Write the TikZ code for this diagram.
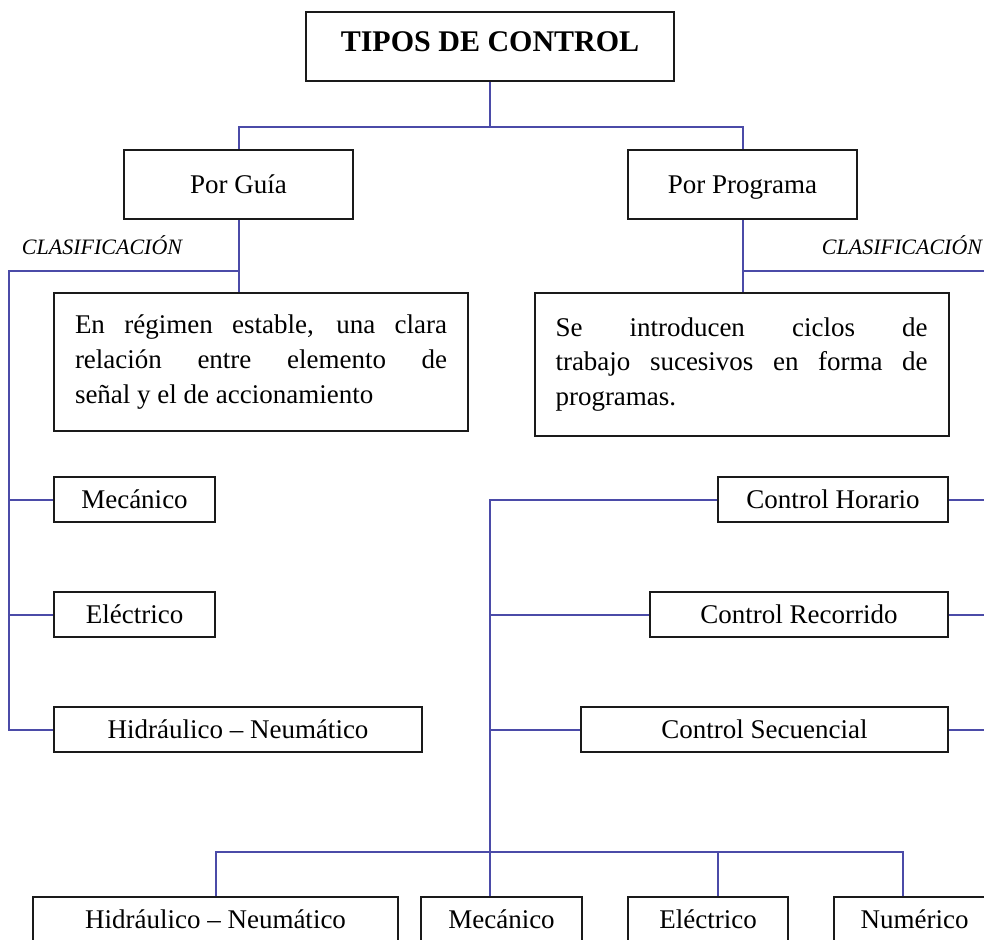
\documentclass[tikz,border=0pt]{standalone}
\usepackage{fontspec}
\setmainfont{Liberation Serif}
\usetikzlibrary{positioning,calc}
\definecolor{linec}{HTML}{4B4BA8}
\definecolor{boxc}{HTML}{1A1A1A}
\newcommand\fcaja{\fontsize{20.25}{25.9}\selectfont}
\newcommand\ftitulo{\fontsize{22.5}{26}\selectfont\bfseries}
\newcommand\fclas{\fontsize{16.5}{19}\selectfont\itshape}
\tikzset{
  marco/.style 2 args={draw=boxc,line width=1.5pt,fill=white,inner sep=0pt,font=\fcaja,
    minimum width=#1*0.75pt,minimum height=#2*0.75pt},
  caja/.style 2 args={marco={#1}{#2},text height=13.4pt,text depth=0pt},
  desc/.style 2 args={marco={#1}{#2},text width=279pt,inner xsep=15.75pt,align=justify},
  enlace/.style={draw=linec,line width=1.5pt},
  clasif/.style={font=\fclas,inner sep=0pt},
}
\begin{document}
\begin{tikzpicture}[x=0.75pt,y=-0.75pt]
  \useasboundingbox (0,0) rectangle (984,939);
  \clip (0,0) rectangle (984,939);
  \fill[white] (0,0) rectangle (984,939);
  % raiz y dos ramas
  \node[caja={368}{69},font=\ftitulo,text height=14.9pt,text depth=6.75pt] (tipos) at (490,46.5) {TIPOS DE CONTROL};
  \node[caja={229}{69}] (guia) at (238.5,184.5) {Por Guía};
  \node[caja={229}{69}] (prog) at (742.5,184.5) {Por Programa};
  \coordinate (rama) at (490,127);
  \draw[enlace] (tipos.south) -- (rama);
  \draw[enlace] (guia.north) |- (rama) -| (prog.north);
  % por guia
  \node[clasif] (clasgt) at (102,245) {CLASIFICACIÓN};
  \node[desc={414}{138}] (descg) at (261,362)
    {En régimen estable, una clara\linebreak relación entre elemento de\linebreak señal y el de accionamiento};
  \node[caja={161}{45}] (mecg) at (134.5,499.5) {Mecánico};
  \node[caja={161}{45}] (eleg) at (134.5,614.5) {Eléctrico};
  \node[caja={368}{45}] (hidg) at (238,729.5) {Hidráulico -- Neumático};
  \coordinate (clasg) at (9,271);
  \draw[enlace] (guia.south) -- (guia.south |- descg.north);
  \draw[enlace] (guia.south |- clasg) -- (clasg) |- (hidg.west);
  \draw[enlace] (clasg |- mecg.west) -- (mecg.west);
  \draw[enlace] (clasg |- eleg.west) -- (eleg.west);
  % por programa
  \node[clasif] (claspt) at (902,245) {CLASIFICACIÓN};
  \node[desc={413}{143}] (descp) at (741.5,364.5)
    {Se introducen ciclos de\linebreak trabajo sucesivos en forma de\linebreak programas.};
  \node[caja={230}{45}] (horario) at (833,499.5) {Control Horario};
  \node[caja={298}{45}] (recorrido) at (799,614.5) {Control Recorrido};
  \node[caja={367}{45}] (secuencial) at (764.5,729.5) {Control Secuencial};
  \coordinate (clasp) at (995,271);
  \coordinate (tronco) at (490,499.5);
  \coordinate (base) at (490,852);
  \draw[enlace] (prog.south) -- (prog.south |- descp.north);
  \draw[enlace] (prog.south |- clasp) -- (clasp);
  \draw[enlace] (horario.west) -- (tronco) -- (base);
  \draw[enlace] (tronco |- recorrido.west) -- (recorrido.west);
  \draw[enlace] (tronco |- secuencial.west) -- (secuencial.west);
  \foreach \n in {horario,recorrido,secuencial}
    \draw[enlace] (\n.east) -- (\n.east -| clasp);
  % fila inferior
  \node[caja={365}{46}] (hidp) at (215.5,920) {Hidráulico -- Neumático};
  \node[caja={161}{46}] (mecp) at (501.5,920) {Mecánico};
  \node[caja={160}{46}] (elep) at (708,920) {Eléctrico};
  \node[caja={161}{46}] (nump) at (914.5,920) {Numérico};
  \coordinate (ce) at (718,852);
  \coordinate (cn) at (903,852);
  \draw[enlace] (hidp.north) |- (cn) -- (cn |- nump.north);
  \draw[enlace] (base) -- (base |- mecp.north);
  \draw[enlace] (ce) -- (ce |- elep.north);
\end{tikzpicture}
\end{document}
